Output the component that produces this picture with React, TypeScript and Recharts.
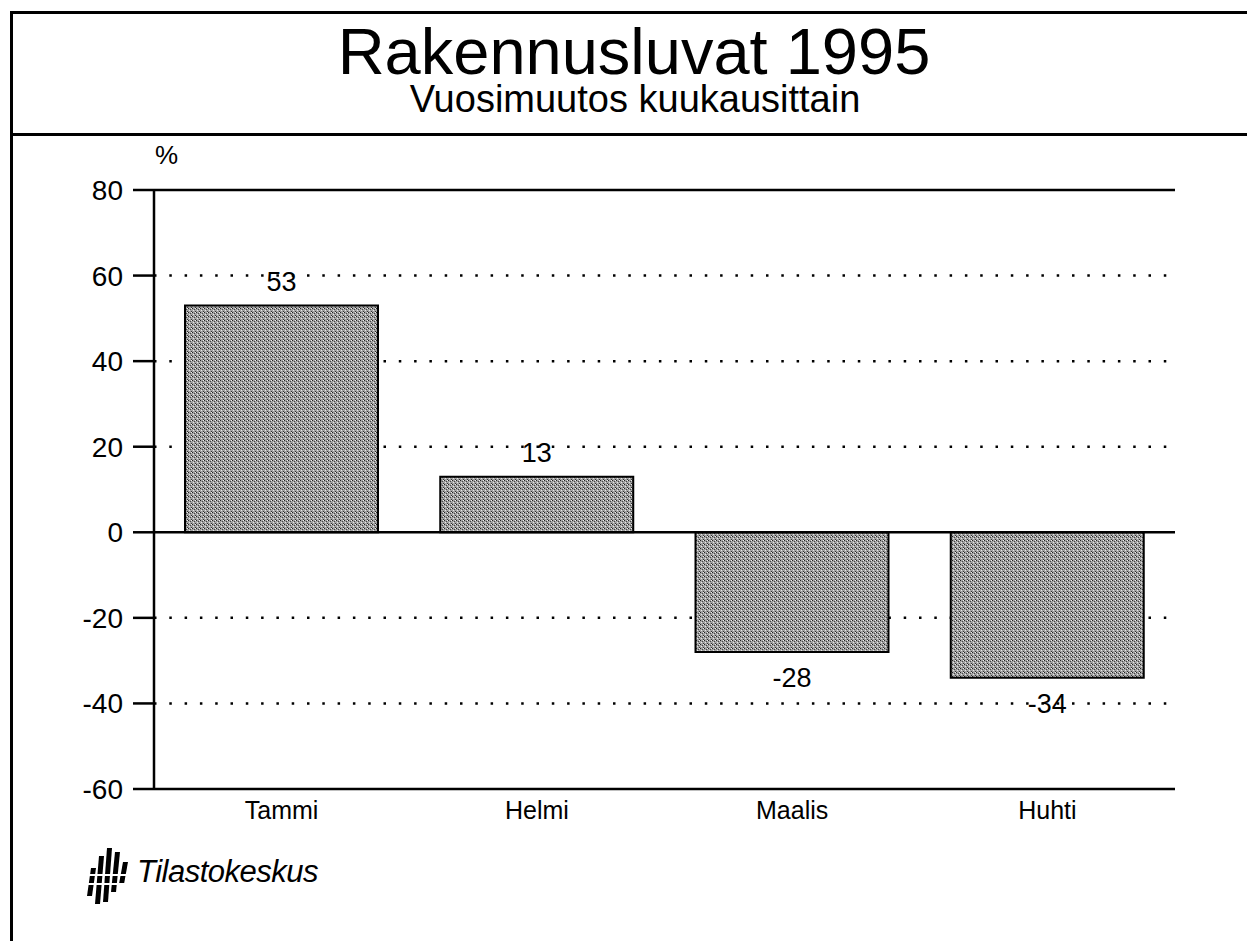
import {
  Bar,
  BarChart,
  CartesianGrid,
  LabelList,
  ReferenceLine,
  XAxis,
  YAxis,
} from "recharts";

const months = ["Tammi", "Helmi", "Maalis", "Huhti"];
const changes = [53, 13, -28, -34];
const yTicks = [-60, -40, -20, 0, 20, 40, 60, 80];
const gridValues = [60, 40, 20, -20, -40];

const chartData = months.map((month, i) => ({ month, change: changes[i] }));

const font = "'Liberation Sans', Arial, Helvetica, sans-serif";

function ValueLabel(props: any) {
  const { x, y, width, height, value } = props;
  const top = Math.min(y, y + height);
  const bottom = Math.max(y, y + height);
  const ty = value >= 0 ? top - 15 : bottom + 35;
  return (
    <text
      x={x + width / 2}
      y={ty}
      textAnchor="middle"
      fill="#000"
      style={{ fontSize: 27, fontFamily: font }}
    >
      {value}
    </text>
  );
}

function AxisTick(props: any) {
  const { x, y, payload, textAnchor, dy } = props;
  return (
    <text
      x={x}
      y={y}
      dy={dy ?? "0.355em"}
      textAnchor={textAnchor}
      fill="#000"
      style={{ fontSize: props.size, fontFamily: font }}
    >
      {payload.value}
    </text>
  );
}

function Logo() {
  // small striped emblem next to the publisher name
  const bars = [
    { x: 3, top: 22, bottom: 50 },
    { x: 11, top: 10, bottom: 58 },
    { x: 19, top: 2, bottom: 56 },
    { x: 27, top: 6, bottom: 46 },
    { x: 35, top: 16, bottom: 38 },
  ];
  return (
    <svg width={46} height={60} style={{ position: "absolute", left: 84, top: 846 }}>
      {bars.map((b, i) => (
        <polygon
          key={i}
          points={`${b.x + 4},${b.top} ${b.x + 9},${b.top} ${b.x + 5},${b.bottom} ${b.x},${b.bottom}`}
          fill="#000"
        />
      ))}
      <rect x={0} y={28} width={46} height={2} fill="#fff" />
      <rect x={0} y={37} width={46} height={2} fill="#fff" />
    </svg>
  );
}

export default function App() {
  return (
    <div
      style={{
        position: "absolute",
        left: 0,
        top: 0,
        width: 1247,
        height: 941,
        background: "#fff",
        fontFamily: font,
        overflow: "hidden",
      }}
    >
      {/* frame */}
      <div style={{ position: "absolute", left: 10, top: 11, width: 1247, height: 3, background: "#000" }} />
      <div style={{ position: "absolute", left: 10, top: 11, width: 3, height: 941, background: "#000" }} />
      <div style={{ position: "absolute", left: 10, top: 133, width: 1247, height: 3, background: "#000" }} />

      <div
        style={{
          position: "absolute",
          left: 0,
          width: 1268,
          top: 26,
          textAlign: "center",
          fontSize: 65,
          lineHeight: "52px",
          color: "#000",
        }}
      >
        Rakennusluvat 1995
      </div>
      <div
        style={{
          position: "absolute",
          left: 0,
          width: 1270,
          top: 84,
          textAlign: "center",
          fontSize: 38,
          lineHeight: "30px",
          color: "#000",
        }}
      >
        Vuosimuutos kuukausittain
      </div>
      <div style={{ position: "absolute", left: 155, top: 140, fontSize: 26, color: "#000" }}>%</div>

      <BarChart
        width={1247}
        height={941}
        data={chartData}
        margin={{ top: 190, right: 72, bottom: 122, left: 74 }}
        barCategoryGap={31}
        style={{ position: "absolute", left: 0, top: 0 }}
      >
        <defs>
          <pattern id="halftone" width={4} height={4} patternUnits="userSpaceOnUse">
            <rect width={4} height={4} fill="#a2a2a2" />
            <rect x={0} y={0} width={1} height={1} fill="#222" />
            <rect x={2} y={1} width={1} height={1} fill="#444" />
            <rect x={1} y={2} width={1} height={1} fill="#e6e6e6" />
            <rect x={3} y={3} width={1} height={1} fill="#333" />
            <rect x={3} y={0} width={1} height={1} fill="#eee" />
          </pattern>
        </defs>
        <CartesianGrid
          horizontal
          vertical={false}
          horizontalValues={gridValues}
          stroke="#000"
          strokeWidth={2.5}
          strokeDasharray="2.5 12.8"
        />
        <XAxis
          dataKey="month"
          axisLine={{ stroke: "#000", strokeWidth: 2.5 }}
          tickLine={false}
          tickMargin={15}
          tick={<AxisTick size={25} />}
        />
        <YAxis
          domain={[-60, 80]}
          ticks={yTicks}
          interval={0}
          width={80}
          axisLine={{ stroke: "#000", strokeWidth: 2.5 }}
          tickLine={{ stroke: "#000", strokeWidth: 2.5 }}
          tickSize={21}
          tickMargin={10}
          tick={<AxisTick size={28} />}
        />
        <YAxis
          yAxisId="frame"
          orientation="right"
          domain={[-60, 80]}
          width={0}
          tick={false}
          tickLine={false}
          axisLine={{ stroke: "#000", strokeWidth: 2.5 }}
        />
        <ReferenceLine y={80} stroke="#000" strokeWidth={2.5} />
        <ReferenceLine y={0} stroke="#000" strokeWidth={2.5} />
        <Bar
          dataKey="change"
          fill="url(#halftone)"
          stroke="#000"
          strokeWidth={2}
          isAnimationActive={false}
        >
          <LabelList dataKey="change" content={ValueLabel} />
        </Bar>
      </BarChart>

      <Logo />
      <div
        style={{
          position: "absolute",
          left: 137,
          top: 854,
          fontSize: 31,
          fontStyle: "italic",
          color: "#000",
          letterSpacing: -0.5,
        }}
      >
        Tilastokeskus
      </div>
    </div>
  );
}
